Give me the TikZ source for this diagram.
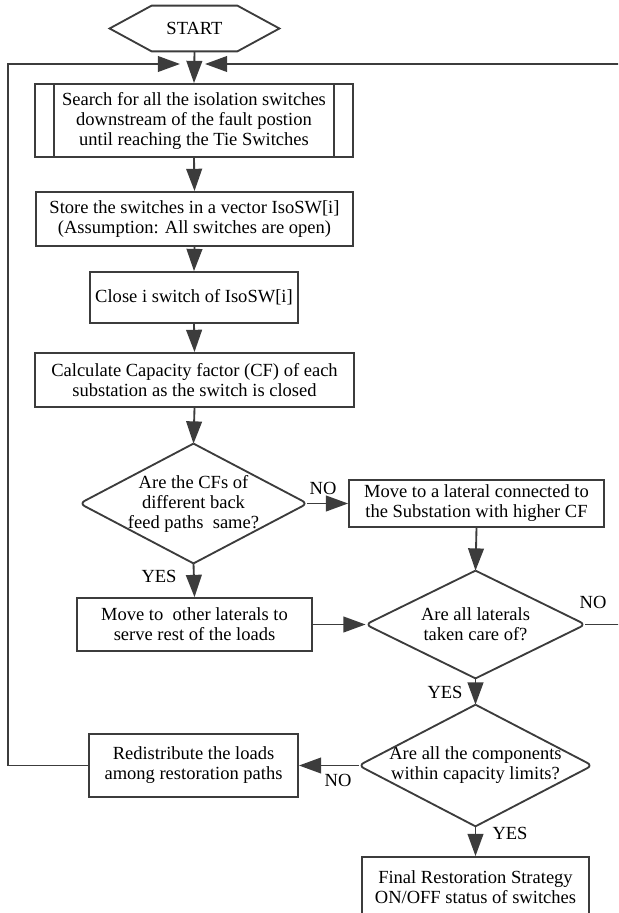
\documentclass[tikz,border=0pt]{standalone}
\usepackage{fontspec}
\setmainfont{Liberation Serif}
\usetikzlibrary{arrows.meta}
\definecolor{linegray}{RGB}{60,60,60}
\begin{document}
\begin{tikzpicture}[x=0.54pt,y=-0.54pt,
  every node/.style={font=\fontsize{10}{10.8}\selectfont},
  outline/.style={draw=linegray,line width=1pt},
  flow/.style={outline,-{Triangle[length=12pt,width=8.5pt]}},
  procbox/.style={outline,align=center,inner sep=1pt},
  decision/.style={align=center,inner sep=0pt}]
\useasboundingbox (0,0) rectangle (618,913);
\clip (0,0) rectangle (618,913);
\node[minimum width=91.3pt,minimum height=24.3pt,inner sep=0pt] (start) at (194.5,28.5) {START};
\draw[outline] (start.west) -- ([xshift=22.7pt]start.north west) -- ([xshift=-22.7pt]start.north east) -- (start.east) -- ([xshift=-22.7pt]start.south east) -- ([xshift=22.7pt]start.south west) -- cycle;
\node[procbox,minimum width=171.7pt,minimum height=39.4pt] (search) at (194,120.5) {Search for all the isolation switches\\downstream of the fault postion\\until reaching the Tie Switches};
\draw[outline] ([xshift=10.8pt]search.north west) -- ([xshift=10.8pt]search.south west);
\draw[outline] ([xshift=-10.8pt]search.north east) -- ([xshift=-10.8pt]search.south east);
\node[procbox,minimum width=171.2pt,minimum height=29.2pt] (store) at (194.5,219) {Store the switches in a vector IsoSW[i]\\(Assumption: All switches are open)};
\node[procbox,minimum width=112.3pt,minimum height=27.5pt] (close) at (194,297.5) {Close i switch of IsoSW[i]};
\node[procbox,minimum width=172.3pt,minimum height=29.2pt] (capacity) at (194.5,380) {Calculate Capacity factor (CF) of each\\substation as the switch is closed};
\node[decision,minimum width=122.6pt,minimum height=64.3pt] (samecf) at (193.5,503.5) {Are the CFs of\\different back\\feed paths~ same?};
\node[procbox,minimum width=137.7pt,minimum height=25.4pt] (higher) at (476.5,503.5) {Move to a lateral connected to\\the Substation with higher CF};
\node[procbox,minimum width=126.9pt,minimum height=28.6pt] (others) at (194.5,624.5) {Move to~ other laterals to\\serve rest of the loads};
\node[decision,minimum width=118.3pt,minimum height=57.8pt] (laterals) at (475.5,624.5) {Are all laterals\\taken care of?};
\node[decision,minimum width=125.8pt,minimum height=65.3pt] (limits) at (475.5,765.5) {Are all the components\\within capacity limits?};
\node[procbox,minimum width=112.9pt,minimum height=34pt] (redist) at (193.5,765.5) {Redistribute the loads\\among restoration paths};
\node[procbox,minimum width=122.6pt,minimum height=32.4pt] (final) at (475.5,887) {Final Restoration Strategy\\ON/OFF status of switches};
\foreach \d in {samecf,laterals,limits} {
  \draw[outline,rounded corners=3pt] (\d.north) -- (\d.east) -- (\d.south);
  \draw[outline,rounded corners=3pt] (\d.south) -- (\d.west) -- (\d.north);
}
\coordinate (joinL) at (180,64);
\coordinate (joinR) at (205,64);
\draw[flow] (start.south) -- (search.north);
\draw[flow] (search.south) -- (store.north);
\draw[flow] (store.south) -- (close.north);
\draw[flow] (close.south) -- (capacity.north);
\draw[flow] (capacity.south) -- (samecf.north);
\draw[flow] (samecf.east) -- (higher.west);
\draw[flow] (samecf.south) -- (others.north);
\draw[flow] (higher.south) -- (laterals.north);
\draw[flow] (others.east) -- (laterals.west);
\draw[flow] (laterals.south) -- (limits.north);
\draw[flow] (limits.west) -- (redist.east);
\draw[flow] (limits.south) -- (final.north);
\draw[flow] (redist.west) -- ++(-80,0) |- (joinL);
\draw[flow] (laterals.east) -- ++(40,0) |- (joinR);
\node (noSame) at (323,488) {NO};
\node (yesSame) at (159,576) {YES};
\node (noLat) at (593,602) {NO};
\node (yesLat) at (445,692) {YES};
\node (noLim) at (338,780) {NO};
\node (yesLim) at (510,833) {YES};
\end{tikzpicture}
\end{document}
